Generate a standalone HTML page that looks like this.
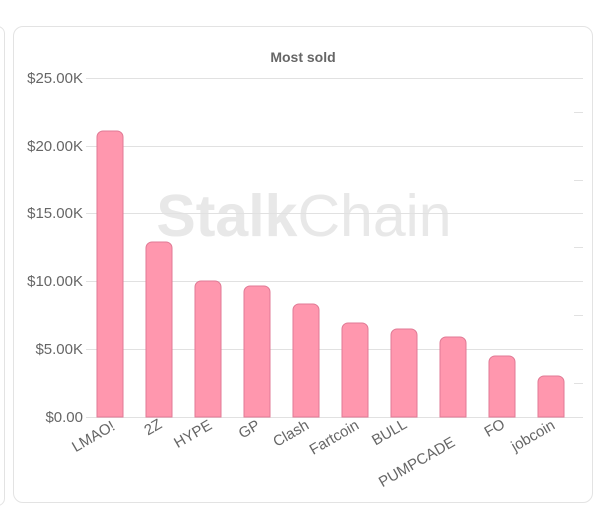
<!DOCTYPE html>
<html><head><style>
html,body{margin:0;padding:0;background:#fff;}
body{width:607px;height:515px;position:relative;overflow:hidden;font-family:"Liberation Sans",Arial,sans-serif;}
.left{position:absolute;left:-10px;top:26px;width:13px;height:478px;border:1px solid #e3e3e3;border-radius:8px;}
.card{position:absolute;left:13px;top:26px;width:580px;height:477px;border:1px solid #e3e3e3;border-radius:10px;box-sizing:border-box;}
</style></head><body>
<div class="left"></div>
<div class="card"></div>
<svg width="607" height="515" style="position:absolute;left:0;top:0" font-family="Liberation Sans, Arial, sans-serif">
<text x="304" y="236" text-anchor="middle" font-size="59" fill="#e8e8e8"><tspan font-weight="bold">Stalk</tspan>Chain</text>
<text x="303" y="62" text-anchor="middle" font-size="14" font-weight="bold" fill="#666">Most sold</text>
<g stroke="#e1e1e1" stroke-width="1">
<line x1="86" x2="583" y1="78.5" y2="78.5"/>
<line x1="86" x2="583" y1="146.5" y2="146.5"/>
<line x1="86" x2="583" y1="213.5" y2="213.5"/>
<line x1="86" x2="583" y1="281.5" y2="281.5"/>
<line x1="86" x2="583" y1="349.5" y2="349.5"/>
<line x1="86" x2="583" y1="417.5" y2="417.5"/>
<line x1="574" x2="583" y1="112.5" y2="112.5"/>
<line x1="574" x2="583" y1="180.5" y2="180.5"/>
<line x1="574" x2="583" y1="247.5" y2="247.5"/>
<line x1="574" x2="583" y1="315.5" y2="315.5"/>
<line x1="574" x2="583" y1="383.5" y2="383.5"/>
</g>
<g font-size="15" fill="#666" text-anchor="end">
<text x="83" y="83">$25.00K</text>
<text x="83" y="151">$20.00K</text>
<text x="83" y="218">$15.00K</text>
<text x="83" y="286">$10.00K</text>
<text x="83" y="354">$5.00K</text>
<text x="83" y="422">$0.00</text>
</g>
<g fill="#ff97ae" stroke="#e07a95" stroke-width="1">
<path d="M97,417V137a6,6 0 0 1 6,-6h14a6,6 0 0 1 6,6V417Z"/>
<path d="M146,417V248a6,6 0 0 1 6,-6h14a6,6 0 0 1 6,6V417Z"/>
<path d="M195,417V287a6,6 0 0 1 6,-6h14a6,6 0 0 1 6,6V417Z"/>
<path d="M244,417V292a6,6 0 0 1 6,-6h14a6,6 0 0 1 6,6V417Z"/>
<path d="M293,417V310a6,6 0 0 1 6,-6h14a6,6 0 0 1 6,6V417Z"/>
<path d="M342,417V329a6,6 0 0 1 6,-6h14a6,6 0 0 1 6,6V417Z"/>
<path d="M391,417V335a6,6 0 0 1 6,-6h14a6,6 0 0 1 6,6V417Z"/>
<path d="M440,417V343a6,6 0 0 1 6,-6h14a6,6 0 0 1 6,6V417Z"/>
<path d="M489,417V362a6,6 0 0 1 6,-6h14a6,6 0 0 1 6,6V417Z"/>
<path d="M538,417V382a6,6 0 0 1 6,-6h14a6,6 0 0 1 6,6V417Z"/>
</g>
<g font-size="15" fill="#666" text-anchor="end">
<text transform="translate(116,429) rotate(-30)">LMAO!</text>
<text transform="translate(163,427) rotate(-30)">2Z</text>
<text transform="translate(213,428) rotate(-30)">HYPE</text>
<text transform="translate(261,428) rotate(-30)">GP</text>
<text transform="translate(310,428) rotate(-30)">Clash</text>
<text transform="translate(360,428) rotate(-30)">Fartcoin</text>
<text transform="translate(408,427) rotate(-30)">BULL</text>
<text transform="translate(456,445) rotate(-30)">PUMPCADE</text>
<text transform="translate(506,427) rotate(-30)">FO</text>
<text transform="translate(556,428) rotate(-30)">jobcoin</text>
</g>
</svg>
</body></html>
